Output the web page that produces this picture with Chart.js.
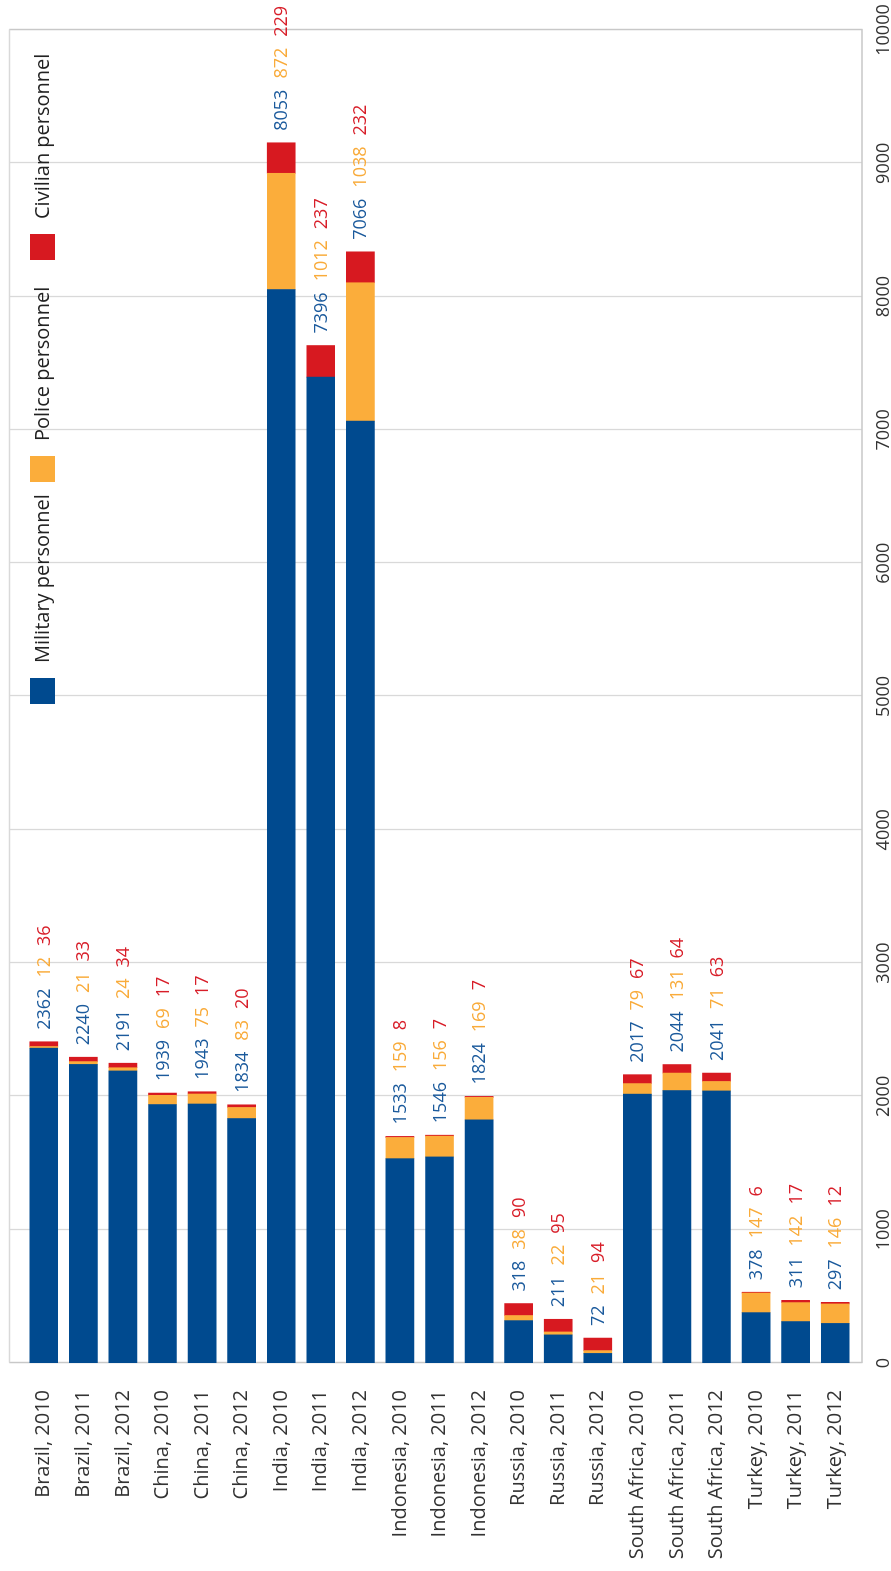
<!DOCTYPE html>
<html><head><meta charset="utf-8">
<script src="https://cdn.jsdelivr.net/npm/chart.js@4"></script>
<style>
html,body{margin:0;padding:0;background:#fff;overflow:hidden;width:891px;height:1571px;}
#wrap{position:absolute;left:0;top:0;width:1571px;height:891px;transform-origin:0 0;transform:translateY(1571px) rotate(-90deg);background:#fff;}
canvas{display:block;}
</style></head><body>
<div id="wrap"><canvas id="c" width="1571" height="891"></canvas></div>
<script>
const categories = ["Brazil, 2010","Brazil, 2011","Brazil, 2012","China, 2010","China, 2011","China, 2012",
  "India, 2010","India, 2011","India, 2012","Indonesia, 2010","Indonesia, 2011","Indonesia, 2012",
  "Russia, 2010","Russia, 2011","Russia, 2012","South Africa, 2010","South Africa, 2011","South Africa, 2012",
  "Turkey, 2010","Turkey, 2011","Turkey, 2012"];
const military = [2362,2240,2191,1939,1943,1834,8053,7396,7066,1533,1546,1824,318,211,72,2017,2044,2041,378,311,297];
const police   = [12,21,24,69,75,83,872,1012,1038,159,156,169,38,22,21,79,131,71,147,142,146];
// bar segments as drawn in the reference (India 2011 police segment is not drawn there)
const policeBar = [12,21,24,69,75,83,872,null,1038,159,156,169,38,22,21,79,131,71,147,142,146];
const civilian = [36,33,34,17,17,20,229,237,232,8,7,7,90,95,94,67,64,63,6,17,12];
const seriesNames = ["Military personnel","Police personnel","Civilian personnel"];
const valueTicks = [0,1000,2000,3000,4000,5000,6000,7000,8000,9000,10000];

const FONT = "'Open Sans', 'Noto Sans', sans-serif";
const BLUE = "#004a8f", ORANGE = "#fbad3b", RED = "#d71920";
const LBLUE = "#1b5a9c", LORANGE = "#f9ab3a", LRED = "#d81e29";

const gridPlugin = {
  id: 'gridBox',
  beforeDatasetsDraw(chart) {
    const {ctx, chartArea: ca, scales: {x}} = chart;
    const top = ca.top - 15, bottom = ca.bottom + 7;
    ctx.save();
    ctx.strokeStyle = "#d9d9d9";
    ctx.lineWidth = 1.3;
    valueTicks.forEach(v => {
      const px = Math.round(x.getPixelForValue(v)) + 0.5;
      ctx.beginPath(); ctx.moveTo(px, top); ctx.lineTo(px, bottom); ctx.stroke();
    });
    ctx.strokeStyle = "#c8c8c8";
    const x0 = Math.round(x.getPixelForValue(valueTicks[0])) + 0.5;
    const x1 = Math.round(x.getPixelForValue(valueTicks[valueTicks.length-1])) + 0.5;
    ctx.beginPath(); ctx.moveTo(x0, top+0.5); ctx.lineTo(x0, bottom); ctx.lineTo(x1, bottom); ctx.lineTo(x1, top+0.5); ctx.stroke();
    ctx.strokeStyle = "#d9d9d9";
    ctx.beginPath(); ctx.moveTo(x0, top+0.5); ctx.lineTo(x1, top+0.5); ctx.stroke();
    ctx.restore();
  }
};

const labelPlugin = {
  id: 'valueLabels',
  afterDatasetsDraw(chart) {
    const {ctx, scales: {x, y}} = chart;
    ctx.save();
    ctx.font = "18px " + FONT;
    ctx.textBaseline = "middle";
    ctx.textAlign = "left";
    categories.forEach((c, i) => {
      const total = military[i] + (policeBar[i] || 0) + civilian[i];
      let px = x.getPixelForValue(total) + 12;
      const py = y.getPixelForValue(i) + 1;
      [[military[i], LBLUE], [police[i], LORANGE], [civilian[i], LRED]].forEach(([v, col]) => {
        const t = String(v);
        ctx.fillStyle = col;
        ctx.fillText(t, px, py);
        px += ctx.measureText(t).width + 11;
      });
    });
    ctx.restore();
  }
};

const legendPlugin = {
  id: 'inLegend',
  afterDraw(chart) {
    const {ctx} = chart;
    const cols = [BLUE, ORANGE, RED];
    ctx.save();
    ctx.font = "20px " + FONT;
    ctx.textBaseline = "middle";
    ctx.textAlign = "left";
    seriesNames.forEach((n, i) => {
      const sx = 867 + i * 222;
      ctx.fillStyle = cols[i];
      ctx.fillRect(sx, 30, 26, 25);
      ctx.fillStyle = "#222";
      ctx.fillText(n, sx + 41, 43);
    });
    ctx.restore();
  }
};

new Chart(document.getElementById('c'), {
  type: 'bar',
  data: {
    labels: categories,
    datasets: [
      {label: seriesNames[0], data: military, backgroundColor: BLUE},
      {label: seriesNames[1], data: policeBar, backgroundColor: ORANGE},
      {label: seriesNames[2], data: civilian, backgroundColor: RED}
    ]
  },
  options: {
    indexAxis: 'y',
    responsive: false,
    animation: false,
    devicePixelRatio: 1,
    layout: {padding: {top: 24, right: 30, left: 0, bottom: 0}},
    datasets: {bar: {barThickness: 28, categoryPercentage: 1, barPercentage: 0.71}},
    plugins: {legend: {display: false}, tooltip: {enabled: false}},
    scales: {
      x: {
        stacked: true, min: 0, max: 10000,
        ticks: {stepSize: 1000, font: {family: FONT, size: 18}, color: '#333', padding: 18, maxRotation: 0, autoSkip: false,
          callback: (v) => String(v)},
        grid: {display: false, drawTicks: false},
        border: {display: false},
        afterFit(s) { s.height = 36; s.paddingLeft = 0; s.paddingRight = 0; }
      },
      y: {
        stacked: true,
        ticks: {font: {family: FONT, size: 20}, color: '#333', padding: 27, autoSkip: false},
        grid: {display: false, drawTicks: false},
        border: {display: false},
        afterFit(s) { s.width = 208; s.paddingTop = 0; s.paddingBottom = 0; }
      }
    }
  },
  plugins: [gridPlugin, labelPlugin, legendPlugin]
});
</script>
</body></html>
